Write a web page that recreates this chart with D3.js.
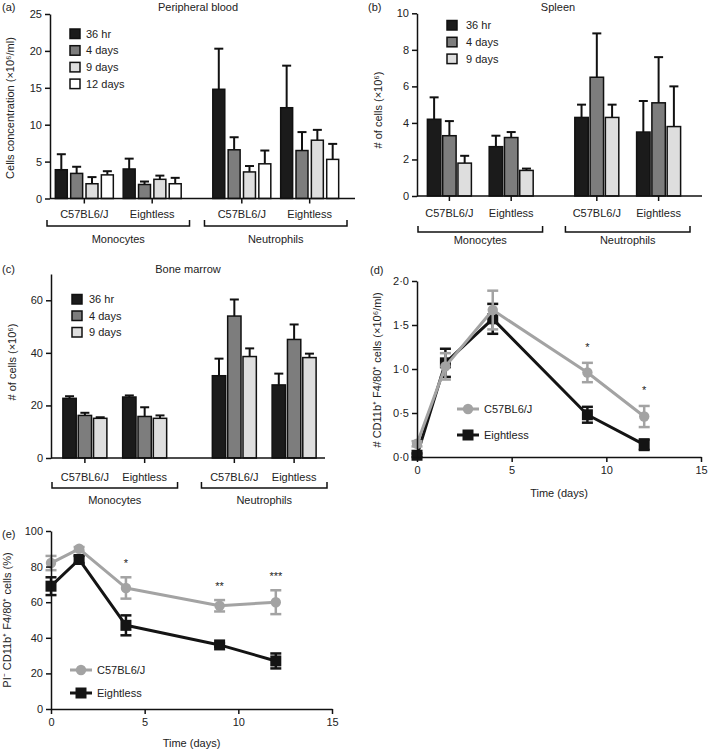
<!DOCTYPE html>
<html><head><meta charset="utf-8">
<script src="https://cdn.jsdelivr.net/npm/d3@7"></script>
<style>body{margin:0;background:#fff}svg{display:block;font-family:"Liberation Sans",Arial,Helvetica,sans-serif}</style>
</head><body><svg id="c" width="709" height="749"></svg>
<script>
// ---------- data ----------
const cellTypes = ["Monocytes", "Neutrophils"];
const strains = ["C57BL6/J", "Eightless"];
const timesA = ["36 hr", "4 days", "9 days", "12 days"];
const timesBC = ["36 hr", "4 days", "9 days"];
const timeFills = ["#1b1b1b", "#7d7d7d", "#dedede", "#ffffff"];
// rows: Monocytes C57BL6/J, Monocytes Eightless, Neutrophils C57BL6/J, Neutrophils Eightless
const bloodMean = [[3.9, 3.4, 2.0, 3.2], [4.0, 1.9, 2.6, 2.0], [14.8, 6.6, 3.6, 4.7], [12.3, 6.5, 7.9, 5.3]];
const bloodErr  = [[2.1, 0.9, 0.9, 0.5], [1.4, 0.4, 0.5, 0.8], [5.5, 1.7, 0.8, 1.8], [5.7, 2.5, 1.4, 2.1]];
const spleenMean = [[4.2, 3.3, 1.8], [2.7, 3.2, 1.4], [4.3, 6.5, 4.3], [3.5, 5.1, 3.8]];
const spleenErr  = [[1.2, 0.8, 0.4], [0.6, 0.3, 0.1], [0.7, 2.4, 0.7], [1.7, 2.5, 2.2]];
const marrowMean = [[22.7, 16.2, 15.1], [23.2, 15.8, 15.1], [31.3, 54.0, 38.6], [27.8, 45.1, 38.2]];
const marrowErr  = [[0.8, 1.0, 0.4], [0.6, 3.5, 1.1], [6.5, 6.3, 3.1], [4.3, 5.7, 1.5]];
const yTicksA = [0, 5, 10, 15, 20, 25];
const yTicksB = [0, 2, 4, 6, 8, 10];
const yTicksC = [0, 20, 40, 60];

const days = [0, 1.5, 4, 9, 12];
const dC57Mean = [0.15, 1.03, 1.67, 0.96, 0.46];
const dC57Err = [0.03, 0.15, 0.22, 0.11, 0.12];
const dEightMean = [0.02, 1.07, 1.57, 0.48, 0.14];
const dEightErr = [0.02, 0.16, 0.17, 0.09, 0.06];
const dStars = ["", "", "", "*", "*"];
const eC57Mean = [82, 90, 68, 58, 60];
const eC57Err = [4, 1, 6, 3.2, 6.7];
const eEightMean = [69, 84, 47, 36, 27];
const eEightErr = [5, 2, 5.6, 1, 4.2];
const eStars = ["", "", "*", "**", "***"];
const xTicksDE = [0, 5, 10, 15];
const yTicksD = [0, 0.5, 1, 1.5, 2];
const yTicksE = [0, 20, 40, 60, 80, 100];
const seriesNames = ["C57BL6/J", "Eightless"];
const seriesColors = ["#a3a3a3", "#141414"];

// ---------- drawing ----------
const svg = d3.select("#c");
const FS = 11;

function styleAxis(sel) {
  sel.selectAll("path.domain").attr("stroke", "#111").attr("stroke-width", 1.5);
  sel.selectAll(".tick line").attr("stroke", "#111").attr("stroke-width", 1.5);
  sel.selectAll(".tick text").attr("font-size", FS).attr("fill", "#222").attr("font-family", null);
}

function txt(g, x, y, s, anchor) {
  return g.append("text").attr("x", x).attr("y", y).text(s)
    .attr("font-size", FS).attr("fill", "#222")
    .attr("text-anchor", anchor || "middle").attr("dominant-baseline", "central");
}

function yLabel(g, x, y, s) {
  g.append("text").attr("transform", `translate(${x},${y}) rotate(-90)`)
    .attr("text-anchor", "middle").attr("dominant-baseline", "central")
    .attr("font-size", FS).attr("fill", "#222").text(s);
}

function barPanel(o) {
  const g = svg.append("g");
  const y = d3.scaleLinear().domain(o.yDomain).range([o.y0, o.y1]);
  const xType = d3.scaleBand().domain(cellTypes).range(o.bracket).paddingInner(o.typePad).paddingOuter(0);
  const xStrain = d3.scalePoint().domain(strains).range([0, xType.bandwidth()]).padding(o.strainPad);
  const xBar = d3.scaleBand().domain(o.times).range([-o.groupW / 2, o.groupW / 2]).paddingInner(o.barPad);

  const rows = [];
  cellTypes.forEach((ct, i) => strains.forEach((s, j) => {
    rows.push({ ct, s, cx: xType(ct) + xStrain(s), vals: o.means[i * 2 + j], errs: o.errs[i * 2 + j] });
  }));

  rows.forEach(r => {
    o.times.forEach((t, k) => {
      const xc = r.cx + xBar(t) + xBar.bandwidth() / 2;
      const top = y(r.vals[k] + r.errs[k]);
      g.append("line").attr("x1", xc).attr("x2", xc).attr("y1", y(r.vals[k])).attr("y2", top)
        .attr("stroke", "#111").attr("stroke-width", 2);
      g.append("line").attr("x1", xc - 4.5).attr("x2", xc + 4.5).attr("y1", top).attr("y2", top)
        .attr("stroke", "#111").attr("stroke-width", 2);
    });
  });
  rows.forEach(r => {
    o.times.forEach((t, k) => {
      g.append("rect").attr("x", r.cx + xBar(t)).attr("y", y(r.vals[k]))
        .attr("width", xBar.bandwidth()).attr("height", y(0) - y(r.vals[k]))
        .attr("fill", timeFills[k]).attr("stroke", "#111").attr("stroke-width", 1.5);
    });
  });

  const ya = g.append("g").attr("transform", `translate(${o.axisX},0)`)
    .call(d3.axisLeft(y).tickValues(o.yTicks).tickSize(5).tickSizeOuter(0).tickPadding(3));
  styleAxis(ya);
  g.append("line").attr("x1", o.axisX).attr("x2", o.axisEnd).attr("y1", y(0)).attr("y2", y(0))
    .attr("stroke", "#111").attr("stroke-width", 1.5);
  rows.forEach(r => {
    g.append("line").attr("x1", r.cx).attr("x2", r.cx).attr("y1", y(0)).attr("y2", y(0) + 5)
      .attr("stroke", "#111").attr("stroke-width", 1.5);
    txt(g, r.cx, o.catY, r.s);
  });
  cellTypes.forEach(ct => {
    const x0 = xType(ct), x1 = x0 + xType.bandwidth();
    g.append("path").attr("d", `M${x0},${o.brY - 6}V${o.brY}H${x1}V${o.brY - 6}`)
      .attr("fill", "none").attr("stroke", "#111").attr("stroke-width", 1.5);
    txt(g, (x0 + x1) / 2, o.typeY, ct);
  });
  o.times.forEach((t, k) => {
    const cy = o.legY + k * o.legStep;
    g.append("rect").attr("x", o.legX).attr("y", cy - 4.5).attr("width", 10).attr("height", 9.5)
      .attr("fill", timeFills[k]).attr("stroke", "#111").attr("stroke-width", 1.5);
    txt(g, o.legX + 10 + o.legGap, cy, t, "start");
  });
  txt(g, o.titleX, o.titleY, o.title);
  txt(g, o.letterX, o.titleY, o.letter, "start");
  yLabel(g, o.ylX, o.ylY, o.ylab);
}

barPanel({
  means: bloodMean, errs: bloodErr, times: timesA, yDomain: [0, 25], yTicks: yTicksA,
  y0: 198.5, y1: 14, axisX: 50, axisEnd: 355, bracket: [47, 347], typePad: 0.095, strainPad: 0.55,
  groupW: 58, barPad: 0.22, catY: 214, brY: 226, typeY: 238.5,
  legX: 70, legY: 33.5, legStep: 16.7, legGap: 6,
  title: "Peripheral blood", titleX: 198, titleY: 6.5, letter: "(a)", letterX: 2,
  ylab: "Cells concentration (×10⁶/ml)", ylX: 10, ylY: 108
});
barPanel({
  means: spleenMean, errs: spleenErr, times: timesBC, yDomain: [0, 10], yTicks: yTicksB,
  y0: 196, y1: 13.3, axisX: 417, axisEnd: 702, bracket: [418, 690], typePad: 0.155, strainPad: 0.508,
  groupW: 44, barPad: 0.12, catY: 213, brY: 232, typeY: 239.5,
  legX: 447, legY: 25, legStep: 16.8, legGap: 9,
  title: "Spleen", titleX: 558, titleY: 6.5, letter: "(b)", letterX: 368,
  ylab: "# of cells (×10⁶)", ylX: 378, ylY: 110
});
barPanel({
  means: marrowMean, errs: marrowErr, times: timesBC, yDomain: [0, 70], yTicks: yTicksC,
  y0: 458, y1: 274, axisX: 51, axisEnd: 325, bracket: [52, 327], typePad: 0.16, strainPad: 0.55,
  groupW: 44, barPad: 0.13, catY: 477, brY: 488, typeY: 500,
  legX: 72, legY: 299, legStep: 16.5, legGap: 7,
  title: "Bone marrow", titleX: 188, titleY: 269, letter: "(c)", letterX: 2,
  ylab: "# of cells (×10⁶)", ylX: 12, ylY: 362
});

function marker(g, s, cx, cy) {
  if (s.shape === "circle") {
    g.append("circle").attr("cx", cx).attr("cy", cy).attr("r", 5.2).attr("fill", s.color);
  } else {
    g.append("rect").attr("x", cx - 5.5).attr("y", cy - 5.5).attr("width", 11).attr("height", 11).attr("fill", s.color);
  }
}

function linePanel(o) {
  const g = svg.append("g");
  const x = d3.scaleLinear().domain([0, 15]).range(o.xRange);
  const y = d3.scaleLinear().domain(o.yDomain).range(o.yRange);
  const series = [
    { name: seriesNames[1], color: seriesColors[1], mean: o.eightMean, err: o.eightErr, shape: "square" },
    { name: seriesNames[0], color: seriesColors[0], mean: o.c57Mean, err: o.c57Err, shape: "circle" }
  ];
  const line = d3.line().x((d, i) => x(days[i])).y(d => y(d));
  series.forEach(s => {
    g.append("path").attr("d", line(s.mean)).attr("fill", "none")
      .attr("stroke", s.color).attr("stroke-width", 3).attr("stroke-linejoin", "round");
    s.mean.forEach((m, i) => {
      const xc = x(days[i]), t = y(m + s.err[i]), b = y(m - s.err[i]);
      g.append("line").attr("x1", xc).attr("x2", xc).attr("y1", t).attr("y2", b)
        .attr("stroke", s.color).attr("stroke-width", 2.5);
      [t, b].forEach(yy => g.append("line").attr("x1", xc - 5.5).attr("x2", xc + 5.5)
        .attr("y1", yy).attr("y2", yy).attr("stroke", s.color).attr("stroke-width", 2.5));
      marker(g, s, xc, y(m));
    });
  });
  o.stars.forEach((st, i) => {
    if (!st) return;
    g.append("text").attr("x", x(days[i])).attr("y", y(o.c57Mean[i] + o.c57Err[i]) - o.starOff)
      .attr("text-anchor", "middle").attr("font-size", FS).attr("fill", "#222").text(st);
  });
  const ya = g.append("g").attr("transform", `translate(${o.xRange[0]},0)`)
    .call(d3.axisLeft(y).tickValues(o.yTicks).tickSize(5).tickSizeOuter(0).tickPadding(3).tickFormat(o.fmt));
  styleAxis(ya);
  const xa = g.append("g").attr("transform", `translate(0,${o.yRange[0]})`)
    .call(d3.axisBottom(x).tickValues(xTicksDE).tickSize(5).tickSizeOuter(0).tickPadding(4));
  styleAxis(xa);
  txt(g, (o.xRange[0] + o.xRange[1]) / 2, o.xlY, "Time (days)");
  [series[1], series[0]].forEach((s, k) => {
    const cy = o.legY + k * o.legStep;
    g.append("line").attr("x1", o.legX).attr("x2", o.legX + 22).attr("y1", cy).attr("y2", cy)
      .attr("stroke", s.color).attr("stroke-width", 3);
    marker(g, s, o.legX + 11, cy);
    txt(g, o.legX + 27, cy, s.name, "start");
  });
  txt(g, o.letterX, o.letterY, o.letter, "start");
  yLabel(g, o.ylX, o.ylY, o.ylab);
}

linePanel({
  xRange: [417, 701], yRange: [457, 281], yDomain: [0, 2], yTicks: yTicksD,
  fmt: d => d.toFixed(1).replace(".", "·"),
  c57Mean: dC57Mean, c57Err: dC57Err, eightMean: dEightMean, eightErr: dEightErr,
  stars: dStars, starOff: 12, xlY: 493,
  legX: 457, legY: 409, legStep: 26,
  letter: "(d)", letterX: 370, letterY: 270,
  ylab: "# CD11b⁺ F4/80⁺ cells (×10⁶/ml)", ylX: 377, ylY: 370
});
linePanel({
  xRange: [51, 332], yRange: [709, 531], yDomain: [0, 100], yTicks: yTicksE,
  fmt: d => d,
  c57Mean: eC57Mean, c57Err: eC57Err, eightMean: eEightMean, eightErr: eEightErr,
  stars: eStars, starOff: 10, xlY: 743,
  legX: 70, legY: 670, legStep: 23,
  letter: "(e)", letterX: 2, letterY: 534,
  ylab: "PI⁻ CD11b⁺ F4/80⁺ cells (%)", ylX: 7, ylY: 620
});
</script></body></html>
